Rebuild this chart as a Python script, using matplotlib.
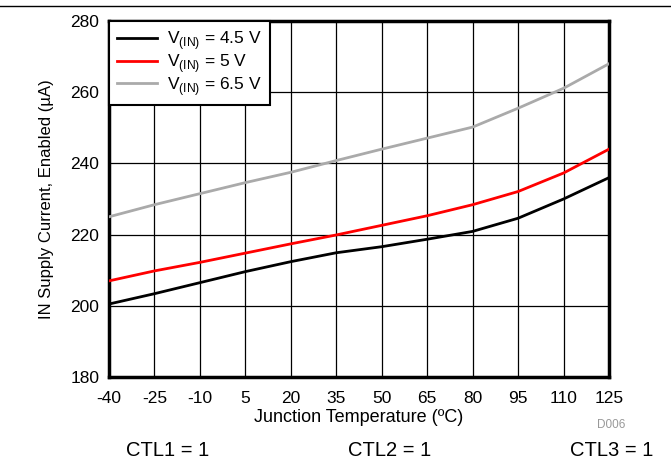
import matplotlib
matplotlib.use('Agg')
import matplotlib.pyplot as plt
from matplotlib.lines import Line2D

plt.rcParams['font.family'] = ['Liberation Sans', 'DejaVu Sans']
plt.rcParams['axes.unicode_minus'] = False

# junction temperature sweep (degC)
temps = [-40, -25, -10, 5, 20, 35, 50, 65, 80, 95, 110, 125]

# IN supply current, enabled (uA)
i_45 = [200.5, 203.4, 206.5, 209.6, 212.4, 214.9, 216.6, 218.7, 220.9, 224.6, 230.0, 236.0]
i_50 = [207.0, 209.8, 212.2, 214.8, 217.4, 219.9, 222.6, 225.3, 228.4, 232.1, 237.3, 244.0]
i_65 = [225.0, 228.4, 231.5, 234.6, 237.5, 240.8, 244.0, 247.1, 250.2, 255.5, 261.1, 268.0]

xticks = temps
yticks = [180, 200, 220, 240, 260, 280]

fig = plt.figure(figsize=(6.71, 4.63), dpi=100)
ax = fig.add_axes([109 / 671, 1 - 377 / 463, 500 / 671, 356 / 463])

ax.plot(temps, i_45, color='black', lw=2, label='V$_{\\mathregular{(IN)}}$ = 4.5 V', zorder=3)
ax.plot(temps, i_50, color='#ff0000', lw=2, label='V$_{\\mathregular{(IN)}}$ = 5 V', zorder=3)
ax.plot(temps, i_65, color='#aaaaaa', lw=2, label='V$_{\\mathregular{(IN)}}$ = 6.5 V', zorder=3)

ax.set_xlim(-40, 125)
ax.set_ylim(180, 280)
ax.set_xticks(xticks)
ax.set_yticks(yticks)
ax.tick_params(length=0, labelsize=12.5)
ax.tick_params(axis='x', pad=10)
ax.tick_params(axis='y', pad=7)
ax.grid(True, color='black', lw=0.9)
for s in ax.spines.values():
    s.set_linewidth(2.5)
    s.set_color('black')

ax.set_xlabel('Junction Temperature (ºC)', fontsize=13, labelpad=2)
ax.set_ylabel('IN Supply Current, Enabled (µA)', fontsize=12, labelpad=12)

leg = ax.legend(loc='upper left', fontsize=12.5, frameon=True, fancybox=False,
                borderaxespad=0, handlelength=2.3, handletextpad=0.6,
                labelspacing=0.0, borderpad=0.45)
leg.get_frame().set_edgecolor('black')
leg.get_frame().set_linewidth(1.5)
leg.get_frame().set_alpha(1)

# rule across the top of the page
fig.add_artist(Line2D([0, 1], [1 - 6 / 463, 1 - 6 / 463], color='black', lw=1,
                      transform=fig.transFigure))

fig.text(611 / 671, 1 - 425 / 463, 'D006', color='#999999', fontsize=8.5,
         ha='center', va='center')
for xc, txt in [(168, 'CTL1 = 1'), (390, 'CTL2 = 1'), (612, 'CTL3 = 1')]:
    fig.text(xc / 671, 1 - 450 / 463, txt, fontsize=14.5, ha='center', va='center')

fig.savefig('out.png', dpi=100)
